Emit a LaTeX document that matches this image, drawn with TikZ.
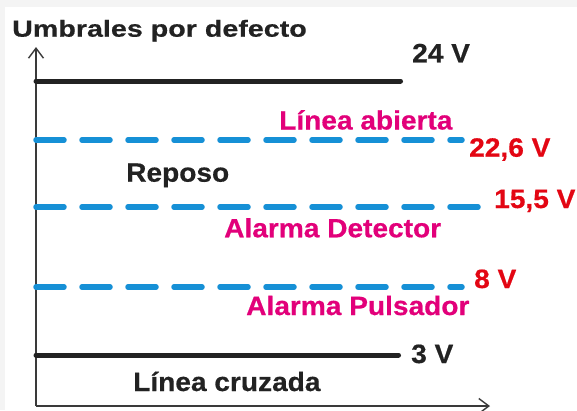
\documentclass[tikz,border=0pt]{standalone}
\usepackage{fontspec}
\setmainfont{Liberation Sans}
\newfontfamily\labfont[FakeStretch=1.06,FakeBold=0.5]{Liberation Sans}
\newfontfamily\titfont[FakeStretch=1.23,FakeBold=0.5]{Liberation Sans}
\usetikzlibrary{arrows.meta}
\definecolor{txtblack}{HTML}{222222}
\definecolor{magtxt}{HTML}{E2007A}
\definecolor{redtxt}{HTML}{E30613}
\definecolor{dashblue}{HTML}{1690D6}
\definecolor{axisgray}{HTML}{3A3A3A}
\definecolor{bggray}{HTML}{F4F4F4}
\tikzset{
  lab/.style={anchor=base west, inner sep=0pt, font=\labfont\bfseries\fontsize{26.5}{30}\selectfont},
  blacklab/.style={lab, text=txtblack},
  maglab/.style={lab, text=magtxt},
  redlab/.style={lab, text=redtxt},
  solidlevel/.style={line width=5pt, line cap=round, draw=txtblack},
  dashlevel/.style={line width=5.5pt, line cap=round, draw=dashblue, dash pattern=on 28pt off 18pt},
  axisline/.style={line width=1.4pt, draw=axisgray, -{Straight Barb[length=10pt,width=15pt,line width=1.4pt]}}
}
\begin{document}
\begin{tikzpicture}[x=1pt,y=-1pt]
\fill[bggray] (0,0) rectangle (577,410);
\fill[white] (5,7) rectangle (577,410);
\useasboundingbox (0,0) rectangle (577,410);

% axes
\coordinate (O) at (36,406);
\coordinate (Ytop) at (36,47);
\coordinate (Xend) at (490,406);
\draw[axisline] (O) -- (Ytop);
\draw[axisline] (O) -- (Xend);

% title
\node[anchor=base west, inner sep=0pt, text=txtblack, font=\titfont\bfseries\fontsize{23.3}{26}\selectfont] (title) at (12,36.7) {Umbrales por defecto};

% level lines
\coordinate (a1) at (36,81);   \coordinate (b1) at (400.5,81);
\coordinate (a2) at (36,140);  \coordinate (b2) at (462,140);
\coordinate (a3) at (36,207);  \coordinate (b3) at (478,207);
\coordinate (a4) at (36,287);  \coordinate (b4) at (462,287);
\coordinate (a5) at (36,355);  \coordinate (b5) at (398.5,355);
\draw[solidlevel] (a1) -- (b1);
\draw[dashlevel] (a2) -- (b2);
\draw[dashlevel] (a3) -- (b3);
\draw[dashlevel] (a4) -- (b4);
\draw[solidlevel] (a5) -- (b5);

% labels
\node[blacklab] (v24) at (412,62.3) {24 V};
\node[maglab] (abierta) at (279,129.5) {Línea abierta};
\node[redlab] (v226) at (469,156.7) {22,6 V};
\node[blacklab] (reposo) at (126,181.7) {Reposo};
\node[redlab] (v155) at (494,208) {15,5 V};
\node[maglab] (detector) at (224,237.3) {Alarma Detector};
\node[redlab] (v8) at (474,288) {8 V};
\node[maglab] (pulsador) at (246,315) {Alarma Pulsador};
\node[blacklab] (v3) at (411,363) {3 V};
\node[blacklab] (cruzada) at (133,391) {Línea cruzada};
\end{tikzpicture}
\end{document}
